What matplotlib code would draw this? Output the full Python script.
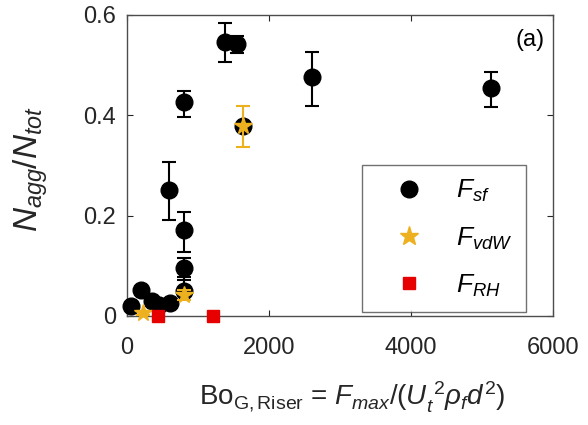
import numpy as np
import matplotlib
matplotlib.use('Agg')
import matplotlib.pyplot as plt
from matplotlib.lines import Line2D

plt.rcParams['font.family'] = ['Liberation Sans', 'DejaVu Sans']
plt.rcParams['mathtext.fontset'] = 'custom'
plt.rcParams['mathtext.rm'] = 'Liberation Sans'
plt.rcParams['mathtext.it'] = 'Liberation Sans:italic'
plt.rcParams['mathtext.bf'] = 'Liberation Sans:bold'

# F_sf points (black circles)
sf_x = [50, 200, 350, 450, 600, 590, 800, 800, 800, 810, 1380, 1550, 1630, 2610, 5125]
sf_y = [0.020, 0.052, 0.030, 0.022, 0.026, 0.252, 0.050, 0.096, 0.172, 0.426,
        0.546, 0.542, 0.378, 0.476, 0.454]
sf_lo = [0.004, 0.004, 0.004, 0.004, 0.004, 0.060, 0.010, 0.024, 0.044, 0.030,
         0.040, 0.018, 0.0, 0.058, 0.038]
sf_hi = [0.004, 0.004, 0.004, 0.004, 0.004, 0.054, 0.028, 0.020, 0.036, 0.022,
         0.038, 0.016, 0.0, 0.050, 0.032]

# F_vdW points (stars)
vdw_x = [225, 800, 1633]
vdw_y = [0.006, 0.042, 0.378]
vdw_lo = [0.004, 0.010, 0.042]
vdw_hi = [0.004, 0.010, 0.040]

# F_RH points (squares)
rh_x = [440, 1210]
rh_y = [0.0, 0.0]

orange = '#EDB120'
red = '#E60000'

fig = plt.figure(figsize=(5.88, 4.25), dpi=100)
ax = fig.add_axes([0.216, 0.2565, 0.724, 0.7085])

ax.errorbar(sf_x, sf_y, yerr=[sf_lo, sf_hi], fmt='o', color='black', ms=12,
            elinewidth=1.5, capsize=5, capthick=1.5, clip_on=False, zorder=3)
ax.errorbar(vdw_x, vdw_y, yerr=[vdw_lo, vdw_hi], fmt='*', color=orange, ms=13,
            elinewidth=1.5, capsize=5, capthick=1.5, clip_on=False, zorder=4)
ax.plot(rh_x, rh_y, 's', color=red, ms=9, clip_on=False, zorder=5)

ax.set_xlim(0, 6000)
ax.set_ylim(0, 0.6)
ax.set_xticks([0, 2000, 4000, 6000])
ax.set_yticks([0, 0.2, 0.4, 0.6])
ax.set_yticklabels(['0', '0.2', '0.4', '0.6'])
ax.tick_params(direction='in', length=4, width=0.8, top=True, right=True,
               labelsize=17, colors='#262626')
ax.tick_params(axis='x', pad=15)
ax.tick_params(axis='y', pad=8)
for s in ax.spines.values():
    s.set_color('#4d4d4d')
    s.set_linewidth(1.0)

ax.set_ylabel(r'$N_{agg}/N_{tot}$', fontsize=24, color='#262626')
ax.yaxis.set_label_coords(-0.18, 0.49)
ax.set_xlabel(r'$\mathrm{Bo}_{\mathrm{G,Riser}}$ = $F_{max}/(U_t^{\ 2}\rho_f d^2)$',
              fontsize=20, color='#262626', va='top')
ax.xaxis.set_label_coords(0.528, -0.21)

ax.text(0.981, 0.917, '(a)', transform=ax.transAxes, ha='right', va='center',
        fontsize=17)

handles = [
    Line2D([], [], ls='none', marker='o', color='black', ms=12),
    Line2D([], [], ls='none', marker='*', color=orange, ms=14),
    Line2D([], [], ls='none', marker='s', color=red, ms=9),
]
labels = [r'$F_{sf}$', r'$F_{vdW}$', r'$F_{RH}$']
leg = ax.legend(handles, labels, loc='upper right', bbox_to_anchor=(0.937, 0.502),
                borderaxespad=0, fontsize=19, frameon=True, fancybox=False,
                labelspacing=0.8, handlelength=2.5, handletextpad=0.55,
                borderpad=0.5)
leg.get_frame().set_edgecolor('#4d4d4d')
leg.get_frame().set_linewidth(1.0)

fig.savefig('out.png', dpi=100)
